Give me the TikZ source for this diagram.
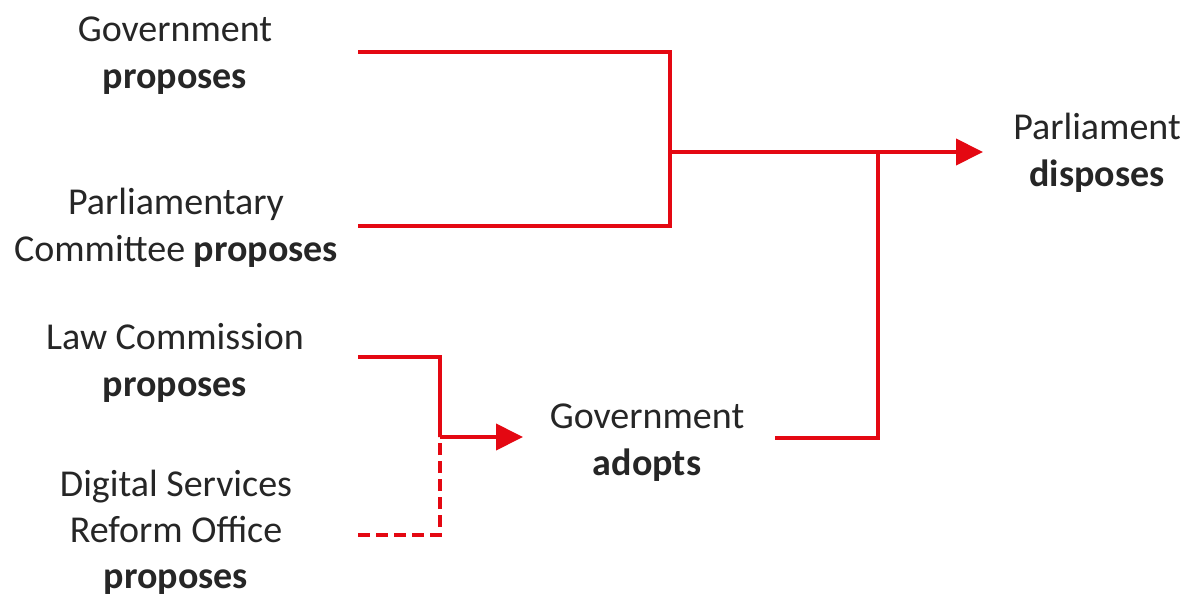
\documentclass[tikz,border=0pt]{standalone}
\usepackage{fontspec}
\setmainfont{Carlito}
\usetikzlibrary{arrows.meta}
\definecolor{linered}{RGB}{228,8,18}
\tikzset{
  lbl/.style={align=center, font=\fontsize{38pt}{47pt}\selectfont, inner sep=0pt, text=black!85},
  conn/.style={draw=linered, line width=4pt, line join=miter},
  arr/.style={conn, -{Triangle[length=27pt,width=26pt]}},
  dconn/.style={conn, dash pattern=on 12pt off 6pt},
}
\begin{document}
\begin{tikzpicture}[x=1pt,y=-1pt]
\useasboundingbox (0,0) rectangle (1199,599);
\fill[white] (0,0) rectangle (1199,599);
% text nodes
\node[lbl] (gp) at (175,56) {Government\\\textbf{proposes}};
\node[lbl] (pc) at (176,228) {Parliamentary\\Committee \textbf{proposes}};
\node[lbl] (lc) at (175,363) {Law Commission\\\textbf{proposes}};
\node[lbl, font=\fontsize{38pt}{46pt}\selectfont] (ds) at (176,532) {Digital Services\\Reform Office\\\textbf{proposes}};
\node[lbl] (ga) at (647,443) {Government\\\textbf{adopts}};
\node[lbl] (pd) at (1097,153) {Parliament\\\textbf{disposes}};
% helper coordinates
\coordinate (sx) at (358,0);
\coordinate (j1) at (670,152);
\coordinate (j2) at (878,152);
\coordinate (j3) at (440,437);
\coordinate (tip1) at (983,152);
\coordinate (tip2) at (523,437);
\coordinate (ge) at (775,438);
% connectors
\draw[conn] (sx |- 0,52) -| (j1) |- (sx |- 0,226);
\draw[arr] (j1) -- (tip1);
\draw[conn] (ge) -| (j2);
\draw[conn] (sx |- 0,357) -| (j3);
\draw[dconn] (sx |- 0,535) -| (j3);
\draw[arr] (j3) -- (tip2);
\end{tikzpicture}
\end{document}
